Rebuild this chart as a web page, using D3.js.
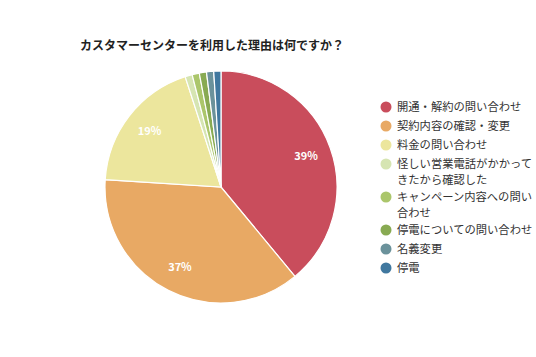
<!DOCTYPE html>
<html><head><meta charset="utf-8">
<script src="https://cdn.jsdelivr.net/npm/d3@7"></script>
<style>
html,body{margin:0;padding:0;background:#fff;}
text{font-family:"Noto Sans CJK JP","Noto Sans",sans-serif;}
</style></head>
<body>
<svg id="chart" width="536" height="357"></svg>
<script>
const title = "カスタマーセンターを利用した理由は何ですか？";
const categories = ["開通・解約の問い合わせ","契約内容の確認・変更","料金の問い合わせ","怪しい営業電話がかかってきたから確認した","キャンペーン内容への問い合わせ","停電についての問い合わせ","名義変更","停電"];
const legendLines = [["開通・解約の問い合わせ"],["契約内容の確認・変更"],["料金の問い合わせ"],["怪しい営業電話がかかって","きたから確認した"],["キャンペーン内容への問い","合わせ"],["停電についての問い合わせ"],["名義変更"],["停電"]];
const values = [39, 37, 19, 1, 1, 1, 1, 1];
const colors = ["#c94d5c","#e8a964","#ece69d","#d6e5b2","#abc66b","#88aa52","#6b929b","#40789f"];

const svg = d3.select("#chart");
svg.append("text").attr("x",80).attr("y",50).attr("font-size",12).attr("font-weight","bold").attr("fill","#222").text(title);

const cx = 221, cy = 187, R = 116;
const pie = d3.pie().sort(null).value(d=>d)(values);
const arc = d3.arc().innerRadius(0).outerRadius(R);
const labelArc = d3.arc().innerRadius(R*0.78).outerRadius(R*0.78);
const g = svg.append("g").attr("transform",`translate(${cx},${cy})`);
g.selectAll("path").data(pie).join("path")
  .attr("d",arc).attr("fill",(d,i)=>colors[i]).attr("stroke","#fff").attr("stroke-width",1.2);
g.selectAll("text").data(pie.filter(d=>d.data>=5)).join("text")
  .attr("transform",d=>`translate(${labelArc.centroid(d)})`)
  .attr("text-anchor","middle").attr("dy","0.35em")
  .attr("font-size",11).attr("font-weight","bold").attr("fill","#fff")
  .text(d=>d.data+"%");

const lg = svg.append("g");
let y = 107;
legendLines.forEach((lines,i)=>{
  lg.append("circle").attr("cx",386).attr("cy",y).attr("r",5.5).attr("fill",colors[i]);
  lines.forEach((t,j)=>{
    lg.append("text").attr("x",397).attr("y",y+j*16).attr("dy","0.35em").attr("font-size",11.3).attr("fill","#333").text(t);
  });
  y += 19 + (lines.length-1)*14;
});
</script>
</body></html>
